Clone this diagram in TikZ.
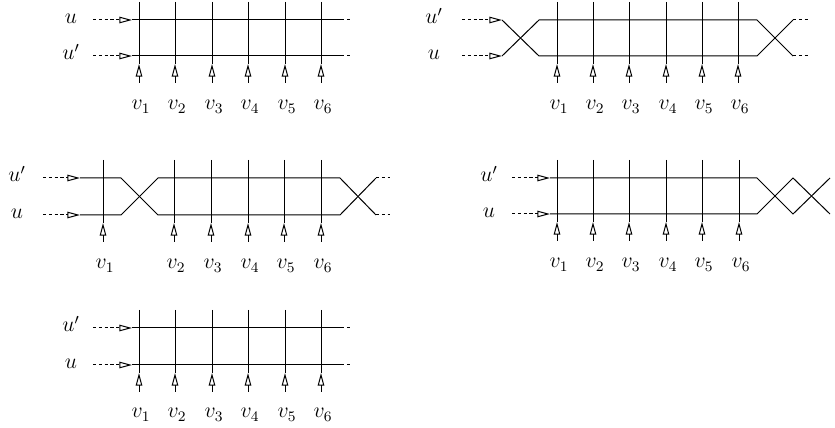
\documentclass[tikz,border=0pt]{standalone}
\usetikzlibrary{arrows.meta}
\begin{document}
\begin{tikzpicture}[x=0.55pt,y=-0.55pt,line width=0.55pt,
  tipopen/.style={-{Triangle[open,length=7pt,width=3.6pt]}},
  dashln/.style={dash pattern=on 1.7pt off 1.5pt},
  lbl/.style={inner sep=0pt,anchor=base,font=\fontsize{11.5}{13}\selectfont}]
\useasboundingbox (0,0) rectangle (835,428);

% ---------- Panel 1 (top left) ----------
\node[lbl] (p1u)  at (71,24) {$u$};
\node[lbl] (p1up) at (71,60) {$u'$};
\coordinate (p1a1) at (93,20);  \coordinate (p1t1) at (132,20);
\coordinate (p1e1) at (341,20); \coordinate (p1f1) at (350,20);
\coordinate (p1a2) at (93,56);  \coordinate (p1t2) at (132,56);
\coordinate (p1e2) at (341,56); \coordinate (p1f2) at (350,56);
\draw[dashln,tipopen] (p1a1) -- (p1t1);
\draw[dashln,tipopen] (p1a2) -- (p1t2);
\draw (p1t1) -- (p1e1); \draw[dashln] (p1e1) -- (p1f1);
\draw (p1t2) -- (p1e2); \draw[dashln] (p1e2) -- (p1f2);
\foreach \i/\x in {1/139,2/175,3/212,4/248,5/285,6/321}{
  \coordinate (p1top\i) at (\x,2);
  \coordinate (p1tip\i) at (\x,64);
  \coordinate (p1bot\i) at (\x,83);
  \draw (p1top\i) -- (p1tip\i);
  \draw[tipopen] (p1bot\i) -- (p1tip\i);
  \node[lbl] (p1v\i) at (\x+2,110) {$v_\i$};
}

% ---------- Panel 2 (top right) ----------
\node[lbl] (p2up) at (434,24) {$u'$};
\node[lbl] (p2u)  at (434,60) {$u$};
\coordinate (p2a1) at (462,20); \coordinate (p2t1) at (502,20);
\coordinate (p2a2) at (462,56); \coordinate (p2t2) at (502,56);
\coordinate (p2c1) at (539,20); \coordinate (p2c2) at (539,56);
\coordinate (p2d1) at (757,20); \coordinate (p2d2) at (757,56);
\coordinate (p2e1) at (793,20); \coordinate (p2e2) at (793,56);
\coordinate (p2f1) at (808,20); \coordinate (p2f2) at (808,56);
\draw[dashln,tipopen] (p2a1) -- (p2t1);
\draw[dashln,tipopen] (p2a2) -- (p2t2);
\draw (p2t1) -- (p2c2) -- (p2d2) -- (p2e1);
\draw (p2t2) -- (p2c1) -- (p2d1) -- (p2e2);
\draw[dashln] (p2e1) -- (p2f1);
\draw[dashln] (p2e2) -- (p2f2);
\foreach \i/\x in {1/557,2/593,3/629,4/666,5/702,6/738}{
  \coordinate (p2top\i) at (\x,2);
  \coordinate (p2tip\i) at (\x,64);
  \coordinate (p2bot\i) at (\x,83);
  \draw (p2top\i) -- (p2tip\i);
  \draw[tipopen] (p2bot\i) -- (p2tip\i);
  \node[lbl] (p2v\i) at (\x+2,110) {$v_\i$};
}

% ---------- Panel 3 (middle left) ----------
\node[lbl] (p3up) at (17,182) {$u'$};
\node[lbl] (p3u)  at (17,219) {$u$};
\coordinate (p3a1) at (43,178);  \coordinate (p3t1) at (80,178);
\coordinate (p3a2) at (43,215);  \coordinate (p3t2) at (80,215);
\coordinate (p3b1) at (121,178); \coordinate (p3b2) at (121,215);
\coordinate (p3c1) at (158,178); \coordinate (p3c2) at (158,215);
\coordinate (p3d1) at (340,178); \coordinate (p3d2) at (340,215);
\coordinate (p3e1) at (376,178); \coordinate (p3e2) at (376,215);
\coordinate (p3f1) at (390,178); \coordinate (p3f2) at (390,215);
\draw[dashln,tipopen] (p3a1) -- (p3t1);
\draw[dashln,tipopen] (p3a2) -- (p3t2);
\draw (p3t1) -- (p3b1) -- (p3c2) -- (p3d2) -- (p3e1);
\draw (p3t2) -- (p3b2) -- (p3c1) -- (p3d1) -- (p3e2);
\draw[dashln] (p3e1) -- (p3f1);
\draw[dashln] (p3e2) -- (p3f2);
\foreach \i/\x in {1/103,2/174,3/211,4/248,5/284,6/321}{
  \coordinate (p3top\i) at (\x,160);
  \coordinate (p3tip\i) at (\x,223);
  \coordinate (p3bot\i) at (\x,242);
  \draw (p3top\i) -- (p3tip\i);
  \draw[tipopen] (p3bot\i) -- (p3tip\i);
  \node[lbl] (p3v\i) at (\x+2,269) {$v_\i$};
}

% ---------- Panel 4 (middle right) ----------
\node[lbl] (p4up) at (489,182) {$u'$};
\node[lbl] (p4u)  at (489,218) {$u$};
\coordinate (p4a1) at (512,178); \coordinate (p4t1) at (550,178);
\coordinate (p4a2) at (512,214); \coordinate (p4t2) at (550,214);
\coordinate (p4d1) at (757,178); \coordinate (p4d2) at (757,214);
\coordinate (p4e1) at (793,178); \coordinate (p4e2) at (793,214);
\coordinate (p4g1) at (830,178); \coordinate (p4g2) at (830,214);
\draw[dashln,tipopen] (p4a1) -- (p4t1);
\draw[dashln,tipopen] (p4a2) -- (p4t2);
\draw (p4t1) -- (p4d1) -- (p4e2) -- (p4g1);
\draw (p4t2) -- (p4d2) -- (p4e1) -- (p4g2);
\foreach \i/\x in {1/557,2/593,3/629,4/666,5/702,6/739}{
  \coordinate (p4top\i) at (\x,160);
  \coordinate (p4tip\i) at (\x,222);
  \coordinate (p4bot\i) at (\x,241);
  \draw (p4top\i) -- (p4tip\i);
  \draw[tipopen] (p4bot\i) -- (p4tip\i);
  \node[lbl] (p4v\i) at (\x+2,268) {$v_\i$};
}

% ---------- Panel 5 (bottom left) ----------
\node[lbl] (p5up) at (71,332) {$u'$};
\node[lbl] (p5u)  at (71,369) {$u$};
\coordinate (p5a1) at (93,328);  \coordinate (p5t1) at (132,328);
\coordinate (p5e1) at (341,328); \coordinate (p5f1) at (350,328);
\coordinate (p5a2) at (93,365);  \coordinate (p5t2) at (132,365);
\coordinate (p5e2) at (341,365); \coordinate (p5f2) at (350,365);
\draw[dashln,tipopen] (p5a1) -- (p5t1);
\draw[dashln,tipopen] (p5a2) -- (p5t2);
\draw (p5t1) -- (p5e1); \draw[dashln] (p5e1) -- (p5f1);
\draw (p5t2) -- (p5e2); \draw[dashln] (p5e2) -- (p5f2);
\foreach \i/\x in {1/139,2/175,3/212,4/248,5/285,6/321}{
  \coordinate (p5top\i) at (\x,310);
  \coordinate (p5tip\i) at (\x,373);
  \coordinate (p5bot\i) at (\x,392);
  \draw (p5top\i) -- (p5tip\i);
  \draw[tipopen] (p5bot\i) -- (p5tip\i);
  \node[lbl] (p5v\i) at (\x+2,418) {$v_\i$};
}
\end{tikzpicture}
\end{document}
